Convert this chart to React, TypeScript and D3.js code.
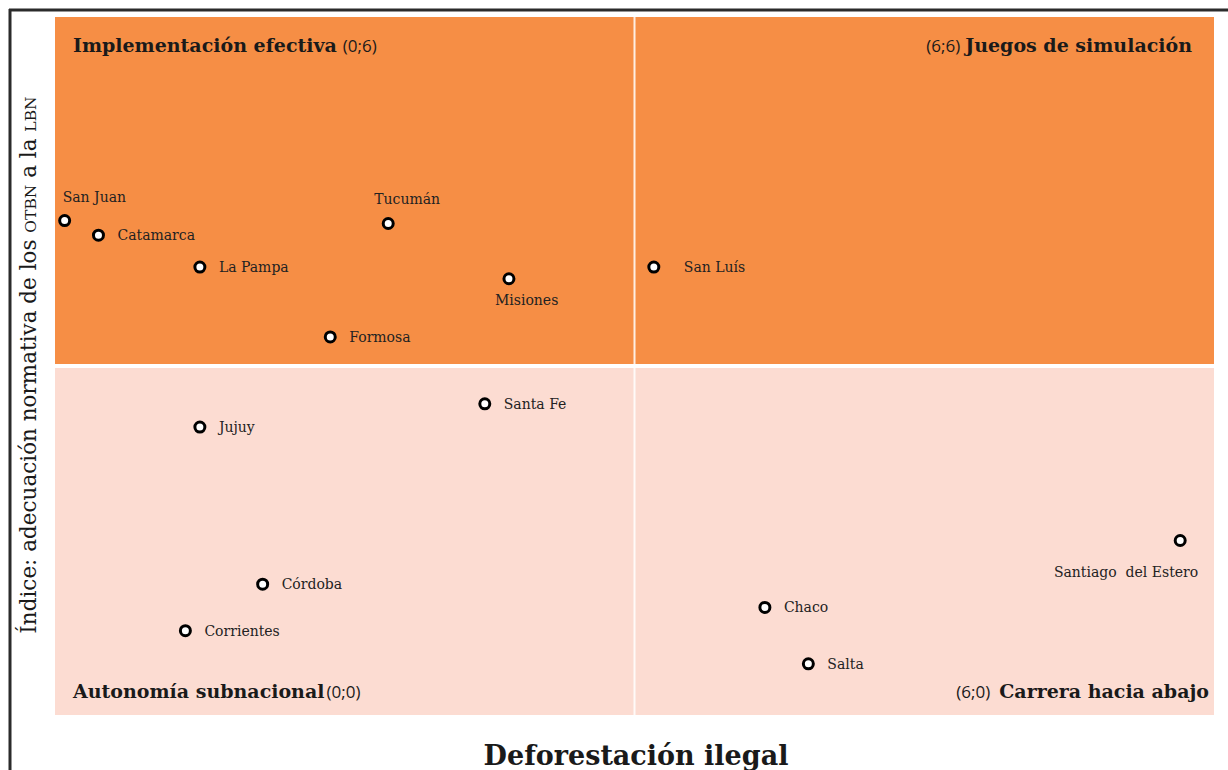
import React from "react";
import * as d3 from "d3";

const provinces = ["San Juan","Catamarca","La Pampa","Tucumán","Misiones","Formosa","San Luís","Santa Fe","Jujuy","Córdoba","Corrientes","Chaco","Salta","Santiago  del Estero"];
const deforestacion = [0.1,0.45,1.5,3.45,4.7,2.85,6.2,4.45,1.5,2.15,1.35,7.35,7.8,11.65];
const adecuacion = [8.5,8.25,7.7,8.45,7.5,6.5,7.7,5.35,4.95,2.25,1.45,1.85,0.88,3.0];
const labelPlacement = ["aboveLeft","right","right","aboveShift","below","right","rightFar","right","right","right","right","right","right","belowLeft"];

const quadrantNames = ["Implementación efectiva","Juegos de simulación","Autonomía subnacional","Carrera hacia abajo"];
const quadrantCoords = ["(0;6)","(6;6)","(0;0)","(6;0)"];
const xTitle = "Deforestación ilegal";

const W = 1228, H = 770;
const L = 55, R = 1214, T = 17, B = 715;

export default function App() {
  const x = d3.scaleLinear().domain([0, 12]).range([L, R]);
  const y = d3.scaleLinear().domain([0, 12]).range([B, T]);
  const mx = x(6), my = y(6);
  const serif = "'DejaVu Serif', serif";
  const sans = "'Open Sans', 'Liberation Sans', sans-serif";

  const offsets: Record<string, { dx: number; dy: number; anchor: string }> = {
    right: { dx: 19, dy: 5, anchor: "start" },
    rightFar: { dx: 30, dy: 5, anchor: "start" },
    aboveLeft: { dx: -2, dy: -19, anchor: "start" },
    aboveShift: { dx: -14, dy: -19, anchor: "start" },
    below: { dx: -14, dy: 26, anchor: "start" },
    belowLeft: { dx: 18, dy: 36, anchor: "end" },
  };

  return (
    <svg width={W} height={H} style={{ position: "absolute", left: 0, top: 0, display: "block", background: "#fff" }}>
      <rect x={x(0)} y={y(12)} width={x(12) - x(0)} height={my - 2 - y(12)} fill="#F68E45" />
      <rect x={x(0)} y={my + 2} width={x(12) - x(0)} height={y(0) - my - 2} fill="#FCDCD2" />
      <rect x={mx - 1} y={y(12)} width={2} height={y(0) - y(12)} fill="#fff" opacity={0.85} />
      <line x1={9} y1={10} x2={W} y2={10} stroke="#2b2b2b" strokeWidth={3} />
      <line x1={10} y1={9} x2={10} y2={H} stroke="#2b2b2b" strokeWidth={3} />

      {/* quadrant labels */}
      <text x={73} y={52} fontFamily={serif} fontSize={19} fontWeight="bold" fill="#1a1a1a">
        {quadrantNames[0]}
        <tspan fontFamily={sans} fontWeight="normal" fontSize={17} dx={6}>{quadrantCoords[0]}</tspan>
      </text>
      <text x={1192} y={52} textAnchor="end" fontFamily={serif} fontSize={19} fontWeight="bold" fill="#1a1a1a">
        <tspan fontFamily={sans} fontWeight="normal" fontSize={17}>{quadrantCoords[1]}</tspan>
        <tspan dx={5}>{quadrantNames[1]}</tspan>
      </text>
      <text x={73} y={698} fontFamily={serif} fontSize={19} fontWeight="bold" fill="#1a1a1a">
        {quadrantNames[2]}
        <tspan fontFamily={sans} fontWeight="normal" fontSize={17} dx={2}>{quadrantCoords[2]}</tspan>
      </text>
      <text x={1209} y={698} textAnchor="end" fontFamily={serif} fontSize={19} fontWeight="bold" fill="#1a1a1a">
        <tspan fontFamily={sans} fontWeight="normal" fontSize={17}>{quadrantCoords[3]}</tspan>
        <tspan dx={9}>{quadrantNames[3]}</tspan>
      </text>

      {/* points */}
      {provinces.map((p, i) => {
        const cx = x(deforestacion[i]);
        const cy = y(adecuacion[i]);
        const o = offsets[labelPlacement[i]];
        return (
          <g key={p}>
            <circle cx={cx} cy={cy} r={5} fill="#fff" stroke="#000" strokeWidth={3} />
            <text x={cx + o.dx} y={cy + o.dy} textAnchor={o.anchor} fontFamily={serif} fontSize={14} fill="#222" style={{ whiteSpace: "pre" }}>
              {p}
            </text>
          </g>
        );
      })}

      {/* axis titles */}
      <text x={636} y={765} textAnchor="middle" fontFamily={serif} fontSize={27} fontWeight="bold" fill="#1a1a1a">
        {xTitle}
      </text>
      <text transform={`translate(36,365) rotate(-90)`} textAnchor="middle" fontFamily={serif} fontSize={21.5} fill="#1a1a1a">
        Índice: adecuación normativa de los <tspan fontSize={15.5}>OTBN</tspan> a la <tspan fontSize={15.5}>LBN</tspan>
      </text>
    </svg>
  );
}
